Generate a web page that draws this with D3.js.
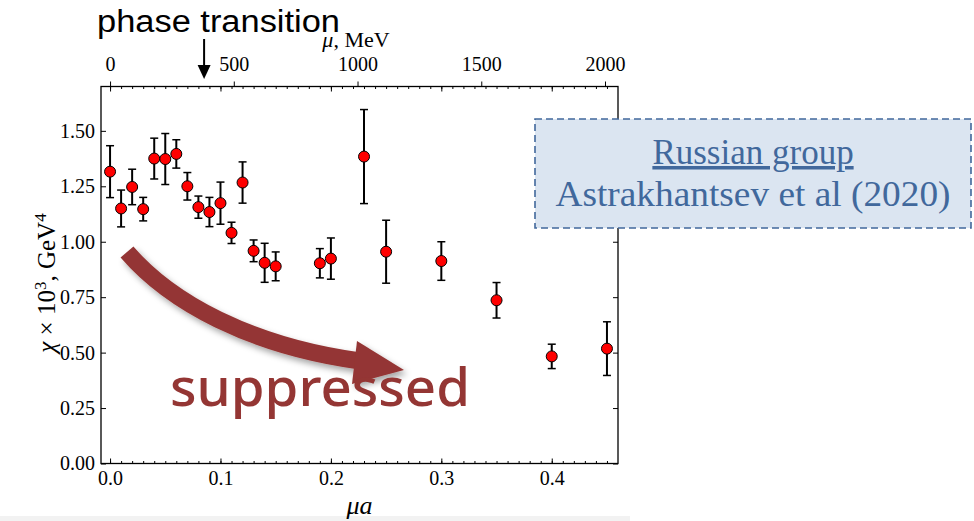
<!DOCTYPE html>
<html>
<head>
<meta charset="utf-8">
<script src="https://cdn.jsdelivr.net/npm/d3@7/dist/d3.min.js"></script>
<style>
  html, body { margin: 0; padding: 0; background: #fff; }
  svg { display: block; }
  .tick text { font-family: "Liberation Serif", "Times New Roman", serif; font-size: 20px; fill: #000; }
</style>
</head>
<body>
<svg id="chart" width="974" height="521"></svg>
<script>
// ---------- data ----------
const muA = [0.00, 0.01, 0.02, 0.03, 0.04, 0.05, 0.06, 0.07, 0.08, 0.09, 0.10, 0.11, 0.12, 0.13, 0.14, 0.15, 0.19, 0.20, 0.23, 0.25, 0.30, 0.35, 0.40, 0.45];
const chi = [1.316, 1.150, 1.247, 1.147, 1.375, 1.373, 1.396, 1.250, 1.156, 1.134, 1.174, 1.040, 1.267, 0.959, 0.905, 0.889, 0.903, 0.924, 1.384, 0.955, 0.913, 0.736, 0.483, 0.518];
const chiErr = [0.117, 0.083, 0.080, 0.053, 0.092, 0.115, 0.064, 0.062, 0.050, 0.066, 0.095, 0.048, 0.093, 0.049, 0.088, 0.065, 0.066, 0.093, 0.212, 0.142, 0.087, 0.080, 0.055, 0.121];
const xMajorTicks = [0.0, 0.1, 0.2, 0.3, 0.4];
const yMajorTicks = [0.00, 0.25, 0.50, 0.75, 1.00, 1.25, 1.50];
const mevTicks = [0, 500, 1000, 1500, 2000];
const inverseSpacingMeV = 4462;   // mu[MeV] = (mu a) * 1/a
const phaseTransitionMeV = 380;

// ---------- geometry ----------
const svg = d3.select("#chart");
const L = 101, R = 618, T = 86.5, B = 463.5;
const xDomain = [-0.0082, 0.46];
const x = d3.scaleLinear().domain(xDomain).range([L, R]);
const y = d3.scaleLinear().domain([0, 1.70]).range([B, T]);
const xTop = d3.scaleLinear().domain(xDomain.map(d => d * inverseSpacingMeV)).range([L, R]);

// bottom gray strip
svg.append("rect").attr("x", 0).attr("y", 516).attr("width", 630).attr("height", 5).attr("fill", "#f2f2f2");

// ---------- arrow (behind data) ----------
const defs = svg.append("defs");
const f = defs.append("filter").attr("id", "shadow").attr("x", "-20%").attr("y", "-20%").attr("width", "150%").attr("height", "150%");
f.append("feDropShadow").attr("dx", 3).attr("dy", 4).attr("stdDeviation", 3)
  .attr("flood-color", "#000").attr("flood-opacity", 0.35);

const arrowCol = "#943634";
const ag = svg.append("g").attr("filter", "url(#shadow)");
ag.append("path")
  .attr("d", "M127,252 C170,302 250,346 360,361")
  .attr("fill", "none").attr("stroke", arrowCol).attr("stroke-width", 17);
ag.append("path")
  .attr("d", "M357,341 L404,370 L352,384 Z")
  .attr("fill", arrowCol);

// ---------- axes ----------
const minorTicks = d3.range(0, 46).map(i => i / 100);

function styleAxis(g) {
  g.selectAll(".domain").remove();
  g.selectAll(".tick line").attr("stroke", "#000").attr("stroke-width", 1);
}

// bottom
svg.append("g").attr("transform", `translate(0,${B})`)
  .call(d3.axisBottom(x).tickValues(minorTicks).tickSize(-2.5).tickFormat(""))
  .call(styleAxis);
svg.append("g").attr("transform", `translate(0,${B})`)
  .call(d3.axisBottom(x).tickValues(xMajorTicks).tickSize(-5).tickPadding(7).tickFormat(d3.format(".1f")))
  .call(styleAxis);
// top (mu a ticks inward)
svg.append("g").attr("transform", `translate(0,${T})`)
  .call(d3.axisTop(x).tickValues(minorTicks).tickSize(-2.5).tickFormat(""))
  .call(styleAxis);
svg.append("g").attr("transform", `translate(0,${T})`)
  .call(d3.axisTop(x).tickValues(xMajorTicks).tickSize(-5).tickFormat(""))
  .call(styleAxis);
// top MeV
svg.append("g").attr("transform", `translate(0,${T})`)
  .call(d3.axisTop(xTop).tickValues(mevTicks).tickSize(5).tickPadding(11).tickFormat(d3.format("d")))
  .call(styleAxis);
// left
svg.append("g").attr("transform", `translate(${L},0)`)
  .call(d3.axisLeft(y).tickValues(yMajorTicks).tickSize(-5).tickPadding(6).tickFormat(d3.format(".2f")))
  .call(styleAxis);
// right
svg.append("g").attr("transform", `translate(${R},0)`)
  .call(d3.axisRight(y).tickValues(yMajorTicks).tickSize(-5).tickFormat(""))
  .call(styleAxis);

// frame
svg.append("rect").attr("x", L).attr("y", T).attr("width", R - L).attr("height", B - T)
  .attr("fill", "none").attr("stroke", "#000").attr("stroke-width", 1.3);

// axis labels
const serif = "'Liberation Serif', 'Times New Roman', serif";
const xl = svg.append("text").attr("x", (L + R) / 2).attr("y", 514).attr("text-anchor", "middle")
  .attr("font-family", serif).attr("font-size", 26);
xl.append("tspan").attr("font-style", "italic").text("μa");

const tl = svg.append("text").attr("x", 356).attr("y", 47).attr("text-anchor", "middle")
  .attr("font-family", serif).attr("font-size", 22);
tl.append("tspan").attr("font-style", "italic").text("μ");
tl.append("tspan").text(", MeV");

const yl = svg.append("text").attr("transform", `translate(55,283) rotate(-90)`)
  .attr("text-anchor", "middle").attr("font-family", serif).attr("font-size", 25);
yl.append("tspan").attr("font-style", "italic").text("χ");
yl.append("tspan").text(" × 10");
yl.append("tspan").attr("font-size", 17).attr("dy", -9).text("3");
yl.append("tspan").attr("dy", 9).text(",  GeV");
yl.append("tspan").attr("font-size", 17).attr("dy", -9).text("4");

// ---------- data: error bars + markers ----------
const data = muA.map((m, i) => ({ m, v: chi[i], e: chiErr[i] }));
const eg = svg.append("g");
eg.selectAll("line.bar").data(data).join("line").attr("class", "bar")
  .attr("x1", d => x(d.m)).attr("x2", d => x(d.m))
  .attr("y1", d => y(d.v - d.e)).attr("y2", d => y(d.v + d.e))
  .attr("stroke", "#000").attr("stroke-width", 2);
["lo", "hi"].forEach(k => {
  eg.selectAll("line.cap" + k).data(data).join("line").attr("class", "cap" + k)
    .attr("x1", d => x(d.m) - 4).attr("x2", d => x(d.m) + 4)
    .attr("y1", d => y(k === "lo" ? d.v - d.e : d.v + d.e))
    .attr("y2", d => y(k === "lo" ? d.v - d.e : d.v + d.e))
    .attr("stroke", "#000").attr("stroke-width", 1.5);
});
svg.append("g").selectAll("circle").data(data).join("circle")
  .attr("cx", d => x(d.m)).attr("cy", d => y(d.v)).attr("r", 5.5)
  .attr("fill", "#ff0000").attr("stroke", "#000").attr("stroke-width", 1);

// ---------- "suppressed" ----------
svg.append("text").attr("x", 170).attr("y", 406)
  .attr("font-family", "'Noto Sans', 'Open Sans', sans-serif").attr("font-weight", 500)
  .attr("font-size", 52).attr("fill", arrowCol)
  .attr("textLength", 300).attr("lengthAdjust", "spacingAndGlyphs")
  .text("suppressed");

// ---------- phase transition ----------
const ptx = xTop(phaseTransitionMeV);
svg.append("text").attr("x", 97).attr("y", 32)
  .attr("font-family", "'Liberation Sans', Arial, sans-serif").attr("font-size", 31)
  .attr("textLength", 243).attr("lengthAdjust", "spacingAndGlyphs")
  .attr("fill", "#000").text("phase transition");
svg.append("line").attr("x1", ptx).attr("x2", ptx).attr("y1", 39).attr("y2", 67)
  .attr("stroke", "#000").attr("stroke-width", 2);
svg.append("path").attr("d", `M${ptx - 6.5},65 L${ptx + 6.5},65 L${ptx},79 Z`).attr("fill", "#000");

// ---------- annotation box ----------
const boxCol = "#41689c";
svg.append("rect").attr("x", 535).attr("y", 119).attr("width", 436).attr("height", 109)
  .attr("fill", "#dbe5f1").attr("stroke", boxCol).attr("stroke-width", 1.6)
  .attr("stroke-dasharray", "7,4");
svg.append("text").attr("x", 753).attr("y", 164).attr("text-anchor", "middle")
  .attr("font-family", serif).attr("font-size", 35).attr("fill", boxCol)
  .attr("text-decoration", "underline").text("Russian group");
svg.append("text").attr("x", 753).attr("y", 206).attr("text-anchor", "middle")
  .attr("font-family", serif).attr("font-size", 35).attr("fill", boxCol)
  .attr("textLength", 395).attr("lengthAdjust", "spacingAndGlyphs")
  .text("Astrakhantsev et al (2020)");
</script>
</body>
</html>
